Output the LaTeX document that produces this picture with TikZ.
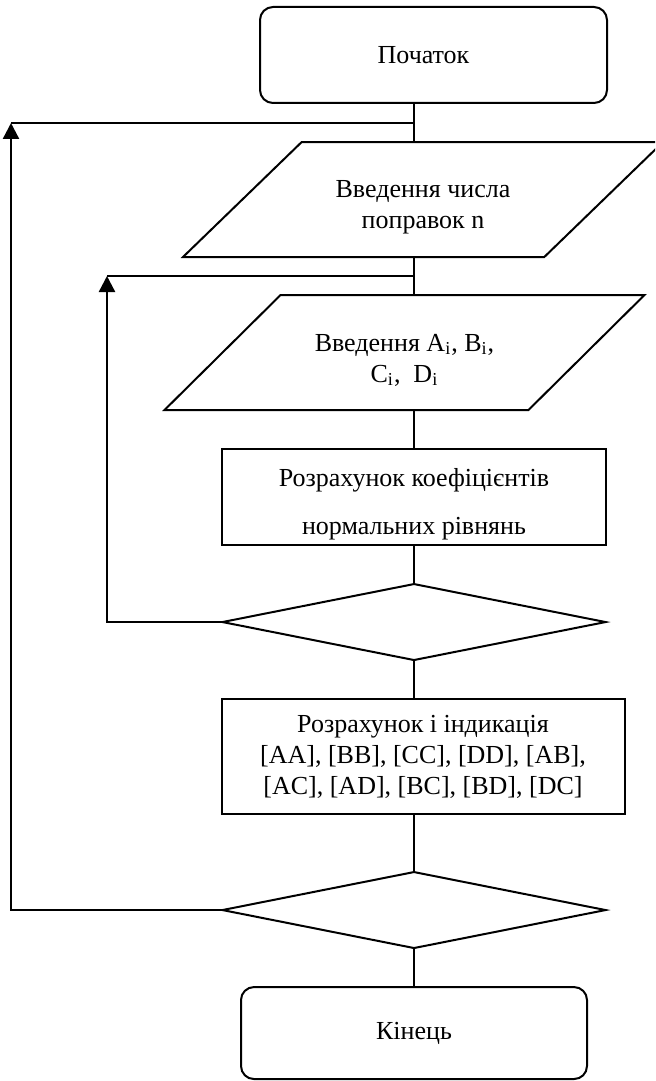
\documentclass[tikz,border=0pt]{standalone}
\usepackage{fontspec}
\setmainfont{Liberation Serif}
\usetikzlibrary{arrows.meta,positioning,shapes.geometric}
\tikzset{
  chart-text/.style={font=\fontsize{13}{15.5}\selectfont, align=center},
  chart-terminal/.style={chart-text, draw=black, rounded corners=6.5pt, line width=1pt, inner sep=0pt, outer sep=0pt},
  chart-io/.style={chart-text, draw=black, trapezium, trapezium left angle=30, trapezium right angle=150,
    trapezium stretches body, line width=1pt, inner sep=0pt, outer sep=0pt},
  chart-process/.style={chart-text, draw=black, line width=1pt, inner sep=0pt, outer sep=0pt},
  chart-decision/.style={draw=black, diamond, line width=1pt, inner sep=0pt, outer sep=0pt,
    minimum width=191.5pt, minimum height=38pt},
  chart-link/.style={line width=1pt},
  chart-return/.style={line width=1.2pt, -{Triangle[length=8pt, width=8pt]}}
}
\newcommand{\lowstrut}{\rule{0pt}{16pt}}

\begin{document}
\begin{tikzpicture}[x=0.5pt, y=-0.5pt, node distance=19.5pt]
  \path[use as bounding box, clip] (0,0) rectangle (655,1081);
  \coordinate (spine) at (414,0);
  \node[chart-terminal, minimum width=173.5pt, minimum height=48pt] (start) at (433.5,55) {\hspace*{-10pt}Початок};
  \node[chart-io, minimum width=240pt, minimum height=57.5pt, below=of start, xshift=-5.25pt] (count) {\lowstrut Введення числа\\поправок n};
  \node[chart-io, minimum width=240pt, minimum height=57.5pt, below=19pt of count, xshift=-9.25pt] (coeffs) {\lowstrut Введення A\textsubscript{i}, B\textsubscript{i},\\C\textsubscript{i},\ \ D\textsubscript{i}};
  \node[chart-process, minimum width=192pt, minimum height=48pt, below=of coeffs, xshift=4.75pt] (calc-normal) {\lowstrut Розрахунок коефіцієнтів\\[8.5pt]нормальних рівнянь};
  \node[chart-decision, below=of calc-normal] (check-i) {};
  \node[chart-process, minimum width=201.5pt, minimum height=57.5pt, below=of check-i, xshift=4.5pt] (calc-ind) {Розрахунок і індикація\\{[AA], [BB], [CC], [DD], [AB],}\\{[AC], [AD], [BC], [BD], [DC]}};
  \node[chart-decision, below=29pt of calc-ind, xshift=-4.5pt] (check-n) {};
  \node[chart-terminal, minimum width=173pt, minimum height=46pt, below=of check-n] (stop) {Кінець};
  \draw[chart-link] (start.south -| spine) -- (count.north -| spine);
  \draw[chart-link] (count.south -| spine) -- (coeffs.north -| spine);
  \draw[chart-link] (coeffs.south -| spine) -- (calc-normal.north -| spine);
  \draw[chart-link] (calc-normal.south -| spine) -- (check-i.north);
  \draw[chart-link] (check-i.south) -- (calc-ind.north -| spine);
  \draw[chart-link] (calc-ind.south -| spine) -- (check-n.north);
  \draw[chart-link] (check-n.south) -- (stop.north -| spine);
  \coordinate (outer-top) at (11,123);
  \coordinate (inner-top) at (107,276);
  \draw[chart-return] (check-n.west) -| (outer-top);
  \draw[chart-link] (outer-top) -- (outer-top -| spine);
  \draw[chart-return] (check-i.west) -| (inner-top);
  \draw[chart-link] (inner-top) -- (inner-top -| spine);
\end{tikzpicture}
\end{document}
